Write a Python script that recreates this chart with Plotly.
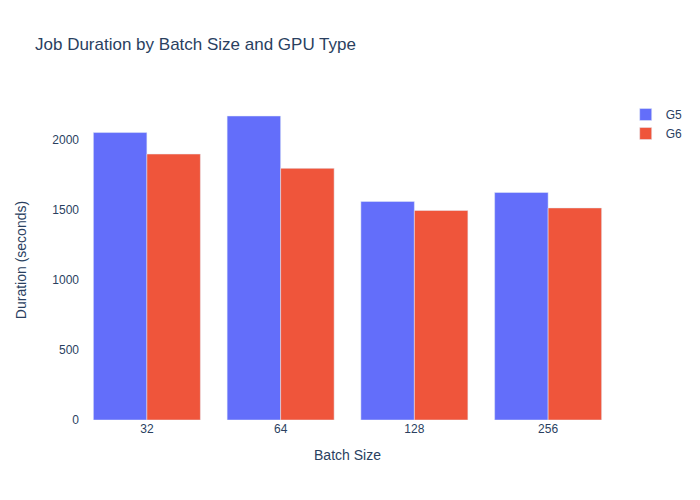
import plotly.graph_objects as go

batch_sizes = ["32", "64", "128", "256"]
g5_duration = [2048, 2166, 1557, 1621]
g6_duration = [1895, 1793, 1493, 1511]

fig = go.Figure()
fig.add_trace(go.Bar(x=batch_sizes, y=g5_duration, name="G5"))
fig.add_trace(go.Bar(x=batch_sizes, y=g6_duration, name="G6"))

fig.update_layout(
    title="Job Duration by Batch Size and GPU Type",
    xaxis_title="Batch Size",
    yaxis_title="Duration (seconds)",
    barmode="group",
    plot_bgcolor="white",
    paper_bgcolor="white",
    font=dict(family="Arial, Liberation Sans, sans-serif"),
    width=700,
    height=500,
)
fig.update_xaxes(type="category")
fig.update_yaxes(title_standoff=22)

# drop the default page margin so the figure sits at the window's corner
fig.write_html("out.html", config={"displayModeBar": False},
               post_script="document.body.style.margin='0';")
